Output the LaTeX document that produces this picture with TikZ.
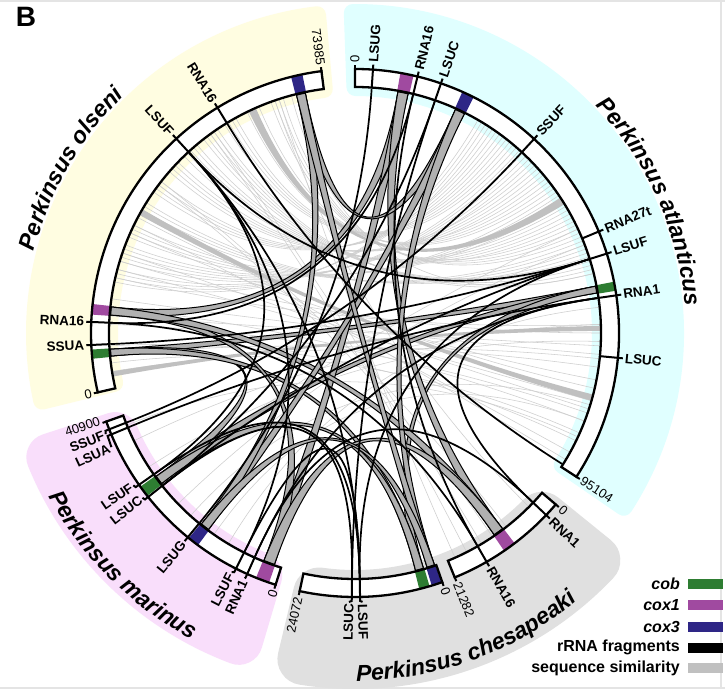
\documentclass[tikz,border=0pt]{standalone}
\usepackage{fontspec}
\setmainfont{Liberation Sans}
\usetikzlibrary{calc,decorations.text}
\definecolor{cobc}{RGB}{46,125,50}
\definecolor{coxa}{RGB}{160,74,160}
\definecolor{coxc}{RGB}{46,38,134}
\definecolor{simc}{RGB}{206,206,206}
\definecolor{simd}{RGB}{192,192,192}
\definecolor{ribc}{RGB}{176,176,176}
\definecolor{bgO}{RGB}{255,253,225}
\definecolor{bgA}{RGB}{224,255,255}
\definecolor{bgM}{RGB}{249,222,251}
\definecolor{bgC}{RGB}{224,224,224}
\definecolor{framec}{RGB}{228,228,228}
\newcommand\rin{245}
\newcommand\rctl{81.7}
\newcommand\tickfont{\fontsize{13.5}{14}\selectfont\bfseries}
\newcommand\numfont{\fontsize{13}{14}\selectfont}
\newcommand\spfont{\fontsize{23}{23}\selectfont\bfseries\itshape}
\newcommand\legfont{\fontsize{16}{16}\selectfont\bfseries}
\tikzset{
  ringst/.style={draw=black, line width=2.3pt, line join=miter},
  tickst/.style={draw=black, line width=2pt},
  rrna/.style={draw=black, line width=1.7pt},
  simline/.style={draw=simc, line width=0.55pt},
  generib/.style={fill=ribc, draw=black, line width=1pt},
  legbox/.style={minimum width=35pt, minimum height=10pt, inner sep=0pt},
}
% colour, start angle (larger), end angle, inner r, outer r, corner radius
\newcommand\bgsector[6]{%
  \pgfmathsetmacro\dIn{#6/(#4+#6)*57.2958}%
  \pgfmathsetmacro\dOut{#6/(#5-#6)*57.2958}%
  \filldraw[fill=#1, draw=#1, line width=2*#6, line join=round]
   ({#2-\dIn}:{#4+#6}) arc[start angle={#2-\dIn}, end angle={#3+\dIn}, radius={#4+#6}]
   -- ({#3+\dOut}:{#5-#6}) arc[start angle={#3+\dOut}, end angle={#2-\dOut}, radius={#5-#6}] -- cycle;}
\newcommand\generibbon[4]{%
  \filldraw[generib] (#1:\rin) arc[start angle=#1, end angle=#2, radius=\rin]
   .. controls (#2:\rctl) and (#3:\rctl) .. (#3:\rin)
   arc[start angle=#3, end angle=#4, radius=\rin]
   .. controls (#4:\rctl) and (#1:\rctl) .. (#1:\rin) -- cycle;}
\newcommand\simband[4]{%
  \fill[simd] (#1:\rin) arc[start angle=#1, end angle=#2, radius=\rin]
   .. controls (#2:\rctl) and (#3:\rctl) .. (#3:\rin)
   arc[start angle=#3, end angle=#4, radius=\rin]
   .. controls (#4:\rctl) and (#1:\rctl) .. (#1:\rin) -- cycle;}
\newcommand\blink[2]{\draw[rrna] (#1) .. controls ($(#1)!0.6667!(O)$) and ($(#2)!0.6667!(O)$) .. (#2);}
\newcommand\ringfill[2]{\fill[white] (#1:246) arc[start angle=#1, end angle=#2, radius=246] -- (#2:264) arc[start angle=#2, end angle=#1, radius=264] -- cycle;}
\newcommand\ringdraw[2]{\draw[ringst] (#1:246) arc[start angle=#1, end angle=#2, radius=246] -- (#2:264) arc[start angle=#2, end angle=#1, radius=264] -- cycle;}
\newcommand\gblock[3]{\fill[#1] (#2:246) arc[start angle=#2, end angle=#3, radius=246] -- (#3:264) arc[start angle=#3, end angle=#2, radius=264] -- cycle;}
\newcommand\tlab[4]{%
  \pgfmathtruncatemacro\side{cos(#2)>-0.001 ? 1 : 0}%
  \ifnum\side=1
    \node[rotate=#2, anchor=west, inner sep=0pt] (#1) at (#2:#3) {#4};%
  \else
    \node[rotate=#2+180, anchor=east, inner sep=0pt] (#1) at (#2:#3) {#4};%
  \fi}
\newcommand\rtick[4]{%
  \coordinate (#1) at (#2:\rin);
  \draw[tickst] (#2:246) -- (#2:268) -- (#3:269);
  \tlab{#1-l}{#3}{271}{\tickfont #4}}
\newcommand\etick[4]{%
  \draw[tickst] (#2:263) -- (#2:268);
  \tlab{#1}{#3}{270}{\numfont #4}}
\begin{document}
\begin{tikzpicture}[x=1pt,y=1pt]
\useasboundingbox (0,0) rectangle (725,689);
\fill[white] (0,0) rectangle (725,689);
\fill[framec] (0,687.3) rectangle (725,689);
\fill[framec] (0,0) rectangle (725,2.3);
\fill[framec] (720,0) rectangle (721.6,689);
\node[font=\fontsize{28}{28}\selectfont\bfseries, inner sep=0pt] (title) at (26,672) {B};
\begin{scope}[shift={(355,356)}]
\coordinate (O) at (0,0);
% species backgrounds
\bgsector{bgO}{193.8}{95.2}{237}{329}{9}
\bgsector{bgA}{92}{-34.5}{237}{329}{9}
\bgsector{bgM}{-106.5}{-162}{237}{353}{24}
\bgsector{bgC}{-39}{-103.5}{237}{356}{26}
% species names
\path[decorate, decoration={text along path, text align=center, text={|\spfont|Perkinsus olseni}}]
  (180:331) arc[start angle=180, end angle=120, radius=331];
\path[decorate, decoration={text along path, text align=center, text={|\spfont|Perkinsus atlanticus}}]
  (54:331) arc[start angle=54, end angle=-6, radius=331];
\path[decorate, decoration={text along path, text align=center, text={|\spfont|Perkinsus marinus}}]
  (-165:347) arc[start angle=-165, end angle=-105, radius=347];
\path[decorate, decoration={text along path, text align=center, text={|\spfont|Perkinsus chesapeaki}}]
  (-100:348) arc[start angle=-100, end angle=-40, radius=348];
% sequence similarity (thin grey)
\foreach \i in {0,...,47}{%
  \pgfmathsetmacro\ga{105+mod(\i*29,64)}%
  \pgfmathsetmacro\gb{14+mod(\i*17,47)}%
  \draw[simline] (\ga:\rin) .. controls (\ga:\rctl) and (\gb:\rctl) .. (\gb:\rin);}
\foreach \i in {0,...,15}{%
  \pgfmathsetmacro\ga{-31+mod(\i*13,34)}%
  \pgfmathsetmacro\gb{150+mod(\i*11,42)}%
  \draw[simline] (\ga:\rin) .. controls (\ga:\rctl) and (\gb:\rctl) .. (\gb:\rin);}
\foreach \i in {0,...,7}{%
  \pgfmathsetmacro\ga{-158+mod(\i*11,40)}%
  \pgfmathsetmacro\gb{-25+mod(\i*23,65)}%
  \draw[simline] (\ga:\rin) .. controls (\ga:\rctl) and (\gb:\rctl) .. (\gb:\rin);}
\foreach \i in {0,...,5}{%
  \pgfmathsetmacro\ga{-66+mod(\i*7,25)}%
  \pgfmathsetmacro\gb{108+mod(\i*17,50)}%
  \draw[simline] (\ga:\rin) .. controls (\ga:\rctl) and (\gb:\rctl) .. (\gb:\rin);}
\simband{113.8}{115.6}{31.6}{33.4}
\simband{149.8}{151.3}{-16}{-14.5}
\simband{189}{190.2}{0.5}{1.7}
% gene ribbons: cob
\generibbon{9.4}{11.0}{183.8}{185.4}
\generibbon{9.4}{11.0}{-144.2}{-142.1}
\generibbon{9.4}{11.0}{-75.7}{-73.8}
\generibbon{183.8}{185.4}{-144.2}{-142.1}
\generibbon{183.8}{185.4}{-75.7}{-73.8}
\generibbon{-144.2}{-142.1}{-75.7}{-73.8}
% cox1
\generibbon{77.5}{79.9}{173.9}{175.8}
\generibbon{77.5}{79.9}{-111.8}{-109.2}
\generibbon{77.5}{79.9}{-55.4}{-53.0}
\generibbon{173.9}{175.8}{-111.8}{-109.2}
\generibbon{173.9}{175.8}{-55.4}{-53.0}
\generibbon{-111.8}{-109.2}{-55.4}{-53.0}
% cox3
\generibbon{63.5}{65.8}{101.7}{103.8}
\generibbon{63.5}{65.8}{-128.8}{-126.7}
\generibbon{63.5}{65.8}{-72.9}{-71.1}
\generibbon{101.7}{103.8}{-128.8}{-126.7}
\generibbon{101.7}{103.8}{-72.9}{-71.1}
\generibbon{-128.8}{-126.7}{-72.9}{-71.1}
% ring segments
\ringfill{90}{-33}
\ringfill{-40.5}{-67.8}
\ringfill{-70.7}{-102.1}
\ringfill{-107.5}{-160.4}
\ringfill{193}{97.3}
% gene blocks
\gblock{cobc}{9.2}{11.2}
\gblock{coxa}{77.2}{80.1}
\gblock{coxc}{63.3}{66.0}
\gblock{coxc}{101.5}{104}
\gblock{coxa}{173.7}{176}
\gblock{cobc}{183.6}{185.6}
\gblock{cobc}{-144.4}{-141.9}
\gblock{coxc}{-129}{-126.5}
\gblock{coxa}{-112}{-109}
\gblock{coxa}{-55.6}{-52.8}
\gblock{cobc}{-75.9}{-73.6}
\gblock{coxc}{-73.1}{-70.9}
\ringdraw{90}{-33}
\ringdraw{-40.5}{-67.8}
\ringdraw{-70.7}{-102.1}
\ringdraw{-107.5}{-160.4}
\ringdraw{193}{97.3}
% rRNA ticks
\rtick{ALSUG}{86.1}{86.1}{LSUG}
\rtick{ARNA16}{76.3}{76.3}{RNA16}
\rtick{ALSUC}{71.0}{71.0}{LSUC}
\rtick{ASSUF}{47.3}{47.3}{SSUF}
\rtick{ARNA27t}{22.6}{22.6}{RNA27t}
\rtick{ALSUF}{17.5}{17.5}{LSUF}
\rtick{ARNA1}{8.2}{8.2}{RNA1}
\rtick{ALSUCb}{-5.4}{-5.4}{LSUC}
\rtick{ORNA16}{121.4}{121.4}{RNA16}
\rtick{OLSUF}{132.6}{132.6}{LSUF}
\rtick{ORNA16b}{177.6}{177.6}{RNA16}
\rtick{OSSUA}{182.6}{182.6}{SSUA}
\rtick{MSSUF}{-158.6}{-157.9}{SSUF}
\rtick{MLSUA}{-157.4}{-154.9}{LSUA}
\rtick{MLSUF}{-144.9}{-145.5}{LSUF}
\rtick{MLSUC}{-141.6}{-142.2}{LSUC}
\rtick{MLSUG}{-129.3}{-129.3}{LSUG}
\rtick{MLSUFb}{-116.8}{-117.3}{LSUF}
\rtick{MRNA1}{-114.1}{-114.2}{RNA1}
\rtick{CRNA1}{-43.6}{-43.6}{RNA1}
\rtick{CRNA16}{-60.1}{-60.1}{RNA16}
\rtick{CLSUF}{-88.9}{-88.4}{LSUF}
\rtick{CLSUC}{-90.7}{-91.3}{LSUC}
\coordinate (AEND) at (-32.3:\rin);
% segment end ticks
\etick{eA0}{90}{90}{0}
\etick{eA1}{-33}{-33}{95104}
\etick{eC0}{-40.5}{-40.5}{0}
\etick{eC1}{-67.8}{-67.8}{21282}
\etick{eD0}{-70.7}{-70.7}{0}
\etick{eD1}{-102.1}{-102.1}{24072}
\etick{eM0}{-107.5}{-107.5}{0}
\etick{eM1}{-160.4}{-161.0}{40900}
\etick{eO0}{193}{193}{0}
\etick{eO1}{97.3}{97.3}{73985}
% rRNA fragment links
\blink{ALSUG}{MLSUG}
\blink{ASSUF}{MSSUF}
\blink{ALSUF}{OLSUF}
\blink{ALSUF}{CLSUF}
\blink{ALSUF}{MLSUC}
\blink{OLSUF}{MLSUF}
\blink{OLSUF}{CLSUF}
\blink{OLSUF}{MLSUFb}
\blink{ALSUC}{MLSUC}
\blink{ALSUC}{CLSUC}
\blink{ARNA1}{MRNA1}
\blink{ARNA1}{CRNA1}
\blink{MRNA1}{CRNA1}
\blink{ARNA16}{CRNA16}
\blink{ARNA16}{ORNA16b}
\blink{ORNA16b}{CRNA16}
\blink{MLSUFb}{CLSUF}
\blink{MLSUF}{CLSUF}
\blink{MLSUC}{CLSUC}
\blink{MLSUA}{ARNA1}
\blink{AEND}{ORNA16}
\blink{OSSUA}{ALSUF}
\end{scope}
% legend
\node[font=\legfont\itshape, anchor=east, inner sep=0pt] (lcob) at (680,105) {cob};
\node[font=\legfont\itshape, anchor=east, inner sep=0pt] (lcox1) at (680,84) {cox1};
\node[font=\legfont\itshape, anchor=east, inner sep=0pt] (lcox3) at (680,62.5) {cox3};
\node[font=\legfont, anchor=east, inner sep=0pt] (lrrna) at (680,41.5) {rRNA fragments};
\node[font=\legfont, anchor=east, inner sep=0pt] (lsim) at (680,21) {sequence similarity};
\node[legbox, fill=cobc, anchor=west] (bcob) at (688,105) {};
\node[legbox, fill=coxa, anchor=west] (bcox1) at (688,84) {};
\node[legbox, fill=coxc, anchor=west] (bcox3) at (688,62.5) {};
\node[legbox, fill=black, anchor=west] (brrna) at (688,41.5) {};
\node[legbox, fill=simd, anchor=west] (bsim) at (688,21) {};
\end{tikzpicture}
\end{document}
